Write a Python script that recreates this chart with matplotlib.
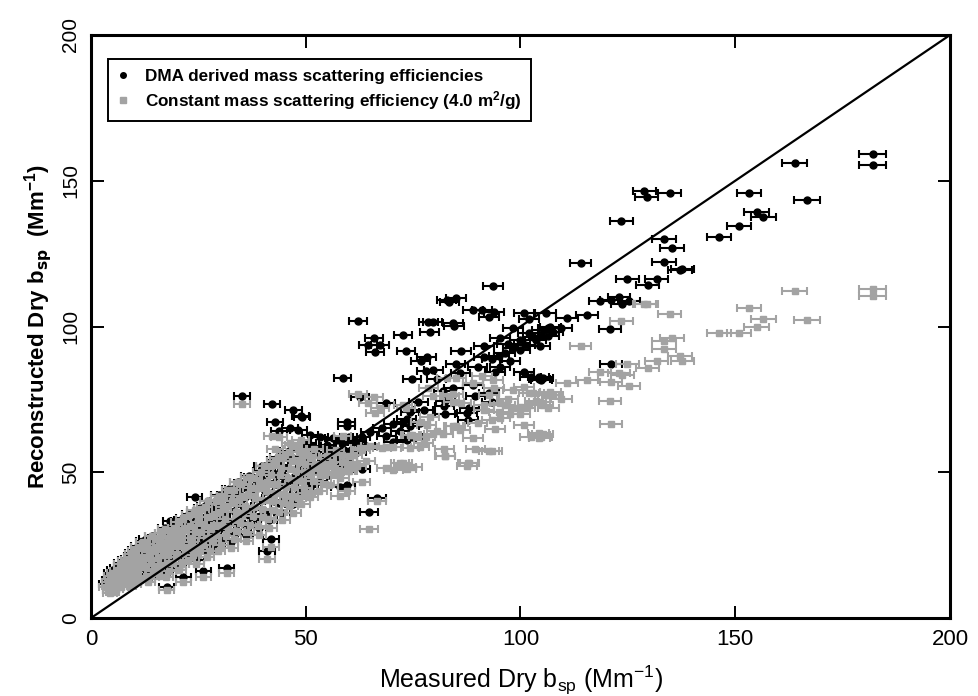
import matplotlib
matplotlib.use("Agg")
import matplotlib.pyplot as plt
from matplotlib.lines import Line2D
import numpy as np

plt.rcParams['font.family'] = ['Liberation Sans', 'DejaVu Sans']
plt.rcParams['mathtext.default'] = 'regular'

# measured dry bsp (Mm-1), sparse points above ~50
x_sparse = [182.0, 182.0, 163.8, 166.7, 153.2, 155.0, 156.5, 150.9, 146.2, 128.8,
            129.4, 134.7, 123.5, 133.4, 135.3, 133.4, 137.1, 137.7, 124.9, 131.7,
            129.6, 114.0, 118.5, 122.9, 121.1, 123.7, 125.3, 105.9, 110.8, 115.5,
            120.8, 106.9, 109.5, 105.2, 106.5, 104.5, 104.5, 121.0, 105.2, 100.8,
            93.5, 82.8, 85.0, 83.4, 88.9, 91.1, 93.9, 92.6, 102.0, 62.2,
            78.5, 79.6, 84.3, 84.5, 78.9, 72.7, 65.9, 64.5, 67.3, 66.2,
            73.3, 86.1, 91.6, 76.8, 78.2, 84.9, 91.5, 93.3, 78.0, 79.7,
            74.7, 58.6, 100.8, 104.2, 104.8, 92.7, 82.5, 82.3, 88.1, 87.5,
            62.6, 68.7, 59.5, 59.5, 73.5, 72.7, 49.1, 95.2, 98.3, 101.9,
            99.9, 103.0, 106.5, 96.3, 98.3, 99.9, 102.4, 104.4, 89.0, 76.2,
            77.5, 74.3, 74.3, 76.6, 70.4, 67.7, 65.0, 71.9, 75.0, 73.5,
            68.8, 70.4, 63.0, 66.5, 64.7, 93.3, 82.4, 87.8, 84.4, 82.0,
            97.6, 95.2, 51.0, 53.3, 56.4, 58.0, 59.5, 60.0, 62.0, 55.0,
            57.0, 35.1, 42.1, 47.1, 48.8, 42.9, 43.8, 46.3, 48.3, 39.7,
            41.7, 45.2, 24.1, 18.4, 21.1, 12.9, 14.5, 42.0, 40.9, 31.6,
            26.1, 17.6, 4.4, 21.5, 86.0, 90.0, 95.0, 97.0, 101.0, 103.5,
            107.5, 94.0, 80.5, 89.5]
# reconstructed with DMA derived mass scattering efficiencies
dma_sparse = [159.3, 155.4, 156.1, 143.5, 145.7, 139.3, 137.7, 134.5, 130.8, 146.6,
              144.5, 145.7, 136.1, 130.1, 127.0, 122.1, 119.4, 119.6, 116.3, 116.3,
              114.2, 121.9, 108.6, 110.2, 109.1, 107.8, 108.7, 104.5, 102.9, 103.8,
              99.1, 99.7, 99.5, 98.8, 96.7, 96.7, 93.2, 87.0, 82.2, 104.7,
              113.9, 109.1, 109.9, 108.3, 105.7, 105.7, 105.1, 103.4, 102.6, 102.0,
              101.4, 101.4, 101.1, 100.2, 98.0, 97.0, 96.1, 93.5, 93.5, 91.1,
              91.7, 91.6, 93.3, 88.3, 89.5, 87.1, 89.4, 88.7, 84.8, 85.1,
              82.1, 82.2, 84.5, 82.8, 81.6, 77.1, 74.5, 72.8, 72.0, 70.2,
              75.9, 73.7, 67.3, 65.9, 68.4, 67.3, 69.1, 96.2, 99.4, 97.7,
              95.4, 96.5, 99.4, 91.0, 92.5, 91.9, 82.8, 81.9, 80.0, 74.0,
              71.5, 70.5, 66.0, 67.0, 66.5, 65.1, 63.9, 64.0, 62.0, 61.0,
              62.5, 60.5, 51.0, 41.0, 36.5, 74.0, 70.0, 68.0, 79.0, 78.0,
              88.0, 86.0, 62.8, 62.2, 61.7, 45.1, 45.6, 62.0, 60.5, 57.0,
              55.0, 76.3, 73.4, 71.3, 69.3, 67.3, 64.3, 65.1, 64.5, 52.1,
              51.7, 47.6, 41.6, 33.3, 33.6, 27.1, 27.1, 27.0, 23.0, 17.3,
              16.1, 10.7, 9.6, 14.0, 84.0, 86.0, 90.0, 94.0, 93.5, 95.5,
              98.0, 84.5, 82.0, 76.0]
# reconstructed with constant mass scattering efficiency (4.0 m2/g)
const_sparse = [113.0, 110.6, 112.2, 102.2, 106.3, 99.8, 102.7, 97.6, 97.6, 107.7,
                107.8, 104.4, 102.0, 95.1, 96.1, 92.3, 89.9, 88.3, 87.0, 88.1,
                85.7, 93.3, 84.5, 84.2, 80.8, 83.3, 79.7, 76.5, 80.7, 81.8,
                74.5, 77.6, 75.0, 73.1, 72.0, 74.0, 62.8, 66.5, 63.0, 79.1,
                81.6, 82.2, 82.2, 76.2, 80.5, 83.0, 78.8, 76.5, 77.1, 76.8,
                78.8, 76.0, 76.8, 74.2, 69.1, 73.2, 75.9, 73.9, 71.9, 70.4,
                71.9, 73.7, 71.4, 67.3, 66.2, 65.7, 73.1, 68.0, 62.2, 63.0,
                62.8, 62.5, 66.3, 63.6, 62.2, 57.3, 55.7, 58.0, 53.3, 52.0,
                58.2, 58.8, 50.5, 51.0, 51.9, 53.1, 55.0, 73.7, 78.2, 73.1,
                72.5, 77.1, 76.5, 73.1, 71.9, 70.0, 62.2, 61.6, 61.6, 62.2,
                60.0, 62.8, 58.4, 58.8, 58.8, 58.2, 59.0, 53.1, 51.9, 51.0,
                51.4, 50.8, 46.8, 40.3, 30.4, 57.3, 55.7, 53.3, 65.7, 63.0,
                70.0, 68.5, 50.5, 49.0, 49.5, 42.0, 43.5, 55.5, 53.0, 52.0,
                50.0, 73.4, 62.5, 59.3, 61.0, 58.0, 62.0, 60.0, 58.0, 45.0,
                46.0, 42.0, 37.0, 29.0, 30.0, 24.0, 23.5, 24.5, 20.1, 15.5,
                14.0, 9.5, 8.5, 12.5, 64.5, 67.0, 70.5, 75.0, 72.0, 74.5,
                76.5, 65.0, 64.0, 58.0]

# dense cluster at low bsp
x_dense = [3.5, 4.0, 4.5, 5.0, 5.5, 6.0, 6.5, 7.0, 7.0, 7.5,
           8.0, 8.5, 9.0, 9.0, 9.5, 10.0, 10.0, 10.5, 11.0, 11.0,
           11.5, 12.0, 12.5, 13.0, 13.0, 13.5, 14.0, 14.5, 15.0, 15.0,
           15.5, 16.0, 16.5, 17.0, 17.0, 17.5, 18.0, 18.5, 19.0, 19.5,
           20.0, 20.0, 20.5, 21.0, 21.5, 22.0, 22.5, 23.0, 23.5, 24.0,
           24.0, 24.5, 25.0, 25.5, 26.0, 26.5, 27.0, 27.5, 28.0, 28.5,
           29.0, 29.5, 30.0, 30.5, 31.0, 31.5, 32.0, 32.5, 33.0, 33.5,
           34.0, 34.5, 35.0, 35.5, 36.0, 36.5, 37.0, 37.5, 38.0, 38.5,
           39.0, 39.5, 40.0, 40.5, 41.0, 41.5, 42.0, 42.5, 43.0, 43.5,
           44.0, 44.5, 45.0, 45.5, 46.0, 46.5, 47.0, 47.5, 48.0, 48.5,
           49.0, 49.5, 50.0, 50.5, 51.0, 52.0, 52.5, 53.0, 54.0, 55.0,
           55.5, 56.5, 57.0, 58.0, 59.0, 60.0, 61.0, 62.0, 63.0, 64.0]
dma_dense = [11.5, 13.0, 15.5, 9.8, 12.5, 17.0, 14.5, 18.8, 11.5, 16.5,
             13.0, 20.3, 18.0, 15.0, 22.3, 16.5, 12.5, 20.0, 24.8, 18.0,
             14.0, 22.5, 19.5, 25.8, 16.0, 24.0, 21.0, 17.0, 27.3, 25.0,
             22.0, 19.0, 29.3, 27.0, 23.5, 15.0, 27.8, 25.0, 20.5, 31.3,
             28.0, 24.0, 18.0, 31.5, 34.3, 26.5, 21.5, 34.0, 29.5, 36.3,
             24.5, 20.0, 35.5, 31.5, 27.0, 38.3, 23.0, 37.0, 33.0, 28.5,
             40.3, 25.0, 39.0, 34.5, 42.3, 30.0, 41.0, 26.0, 44.3, 36.5,
             32.5, 43.5, 46.3, 38.5, 28.5, 45.5, 34.5, 48.3, 41.0, 47.5,
             31.0, 50.3, 37.0, 43.5, 50.0, 33.5, 52.3, 40.0, 46.0, 55.3,
             52.5, 36.0, 42.5, 48.5, 57.3, 55.0, 39.0, 45.0, 51.0, 57.5,
             42.0, 48.0, 54.0, 60.0, 45.0, 50.5, 57.0, 47.0, 53.0, 59.5,
             49.0, 55.0, 61.0, 52.0, 57.5, 55.0, 60.5, 57.0, 62.0, 59.0]
const_dense = [10.5, 12.5, 14.5, 9.0, 11.5, 16.0, 13.0, 18.5, 10.5, 15.0,
               12.0, 20.0, 17.0, 13.5, 22.0, 15.0, 11.5, 19.0, 24.5, 16.5,
               13.0, 21.0, 18.0, 25.5, 14.5, 22.5, 19.5, 16.0, 27.0, 23.0,
               20.5, 17.5, 29.0, 25.0, 21.5, 14.0, 27.5, 23.5, 19.0, 31.0,
               26.0, 22.0, 16.5, 29.0, 34.0, 24.5, 20.0, 31.5, 27.5, 36.0,
               22.5, 18.5, 33.0, 29.5, 25.0, 38.0, 21.0, 34.5, 30.5, 26.5,
               40.0, 23.0, 36.5, 32.0, 42.0, 28.0, 38.5, 24.0, 44.0, 34.0,
               30.0, 40.5, 46.0, 36.0, 26.5, 42.5, 32.0, 48.0, 38.0, 44.5,
               28.5, 50.0, 34.5, 40.5, 46.5, 31.0, 52.0, 37.0, 43.0, 55.0,
               49.0, 33.5, 39.5, 45.0, 57.0, 51.0, 36.0, 42.0, 47.5, 53.5,
               39.0, 44.5, 50.0, 56.0, 41.5, 47.0, 53.0, 43.5, 49.0, 55.5,
               45.5, 51.0, 57.5, 48.0, 53.5, 50.5, 56.0, 52.0, 57.5, 54.0]

# more of the dense cluster, filling the gaps
x_fill = [4.2, 4.8, 5.2, 5.8, 6.2, 6.8, 7.2, 7.8, 8.2, 8.8,
          9.2, 9.8, 10.2, 10.8, 11.2, 11.8, 12.2, 12.8, 13.2, 13.8,
          14.2, 14.8, 15.2, 15.8, 16.2, 16.8, 17.2, 17.8, 18.2, 18.8,
          19.2, 19.8, 20.2, 20.8, 21.2, 21.8, 22.2, 22.8, 23.2, 23.8,
          24.2, 24.8, 25.2, 25.8, 26.2, 26.8, 27.2, 27.8, 28.2, 28.8,
          29.2, 29.8, 30.2, 30.8, 31.2, 31.8, 32.2, 32.8, 33.2, 33.8,
          34.2, 34.8, 35.2, 35.8, 36.2, 36.8, 37.2, 37.8, 38.2, 38.8,
          39.2, 39.8, 40.2, 40.8, 41.2, 41.8, 42.2, 42.8, 43.2, 43.8,
          44.2, 44.8, 45.2, 45.8, 46.2, 46.8, 47.2, 47.8, 48.2, 48.8,
          49.2, 49.8, 50.2, 51.0, 51.5, 52.0, 53.5, 54.5, 56.0, 58.5,
          60.5]
dma_fill = [12.0, 14.5, 16.5, 11.0, 13.5, 18.0, 15.0, 19.8, 17.5, 12.0,
            21.3, 19.5, 23.3, 15.0, 21.5, 19.0, 26.3, 23.8, 13.5, 22.0,
            28.3, 24.8, 19.5, 15.5, 26.3, 24.0, 30.8, 20.5, 17.0, 29.3,
            27.0, 22.5, 33.3, 29.5, 20.0, 25.5, 31.3, 35.8, 28.0, 23.0,
            31.5, 34.8, 26.0, 37.8, 34.0, 29.5, 40.3, 25.0, 37.5, 34.5,
            30.5, 42.3, 27.0, 41.0, 36.5, 33.0, 44.3, 43.0, 29.0, 39.0,
            46.8, 35.0, 45.0, 41.5, 32.0, 48.8, 44.8, 37.5, 44.0, 34.0,
            47.3, 40.5, 52.3, 47.0, 36.5, 49.3, 43.0, 54.3, 49.5, 39.5,
            51.8, 46.0, 56.3, 51.5, 41.5, 54.3, 48.5, 54.5, 44.0, 57.3,
            50.5, 57.0, 46.5, 53.0, 59.0, 58.3, 55.0, 50.0, 57.5, 60.0,
            57.5]
const_fill = [11.0, 13.5, 15.5, 10.0, 12.5, 17.0, 14.0, 19.5, 16.5, 11.0,
              21.0, 18.0, 23.0, 14.0, 20.0, 17.5, 26.0, 23.5, 12.5, 20.5,
              28.0, 24.5, 18.0, 14.5, 26.0, 22.5, 30.5, 19.0, 16.0, 29.0,
              25.0, 21.0, 33.0, 27.5, 18.5, 23.5, 31.0, 35.5, 26.0, 21.5,
              29.5, 34.5, 24.0, 37.5, 31.5, 27.5, 40.0, 23.0, 35.0, 32.0,
              28.5, 42.0, 25.0, 38.0, 34.0, 30.5, 44.0, 40.0, 27.0, 36.5,
              46.5, 32.5, 42.0, 38.5, 29.5, 48.5, 44.5, 35.0, 41.0, 31.5,
              47.0, 37.5, 52.0, 43.5, 34.0, 49.0, 40.0, 54.0, 46.0, 36.5,
              51.5, 42.5, 56.0, 48.0, 38.5, 54.0, 45.0, 50.5, 41.0, 57.0,
              47.0, 53.0, 43.0, 49.0, 55.0, 58.0, 51.0, 46.0, 53.5, 56.0,
              53.0]

# nephelometer uncertainty on measured bsp
xerr_abs = 1.5
xerr_rel = 0.009

x_meas = np.array(x_dense + x_fill + x_sparse)
y_dma = np.array(dma_dense + dma_fill + dma_sparse)
y_const = np.array(const_dense + const_fill + const_sparse)
x_err = xerr_abs + xerr_rel * x_meas

gray = '#a3a3a3'

fig = plt.figure(figsize=(9.79, 6.96), dpi=100)
ax = fig.add_axes([91 / 979, 1 - 618 / 696, (950 - 91) / 979, (618 - 35) / 696])

ax.errorbar(x_meas, y_dma, xerr=x_err, fmt='o', color='black', ms=5,
            elinewidth=1.5, capsize=3, capthick=1.5, zorder=2)
ax.errorbar(x_meas, y_const, xerr=x_err, fmt='s', color=gray, ms=4.6,
            elinewidth=1.5, capsize=3, capthick=1.5, zorder=3)
ax.plot([0, 200], [0, 200], color='black', lw=1.6, zorder=4)

ax.set_xlim(0, 200)
ax.set_ylim(0, 200)
ax.set_xticks([0, 50, 100, 150, 200])
ax.set_yticks([0, 50, 100, 150, 200])
ax.tick_params(direction='in', length=9, width=1.4, top=True, right=True,
               labelsize=15, pad=8)
for lab in ax.get_yticklabels():
    lab.set_rotation(90)
    lab.set_va('center')
for lab in ax.get_xticklabels():
    lab.set_fontsize(16)
for s in ax.spines.values():
    s.set_linewidth(2.2)

ax.set_xlabel('Measured Dry b$_{sp}$ (Mm$^{-1}$)', fontsize=18, labelpad=10)
ax.set_ylabel(r'Reconstructed Dry b$_{\mathbf{sp}}$  (Mm$^{-1}$)', fontsize=16,
              fontweight='bold', labelpad=4)

handles = [Line2D([], [], marker='o', ls='none', color='black', ms=4),
           Line2D([], [], marker='s', ls='none', color=gray, ms=4)]
labels = ['DMA derived mass scattering efficiencies',
          'Constant mass scattering efficiency (4.0 m$^2$/g)']
leg = ax.legend(handles, labels, loc='upper left', bbox_to_anchor=(0.0198, 0.958),
                borderaxespad=0, prop={'weight': 'bold', 'size': 12.3},
                handlelength=0.6, handletextpad=1.0, borderpad=0.55,
                labelspacing=0.3, fancybox=False, framealpha=1,
                edgecolor='black')
leg.get_frame().set_linewidth(1.4)

fig.savefig('out.png', dpi=100)
